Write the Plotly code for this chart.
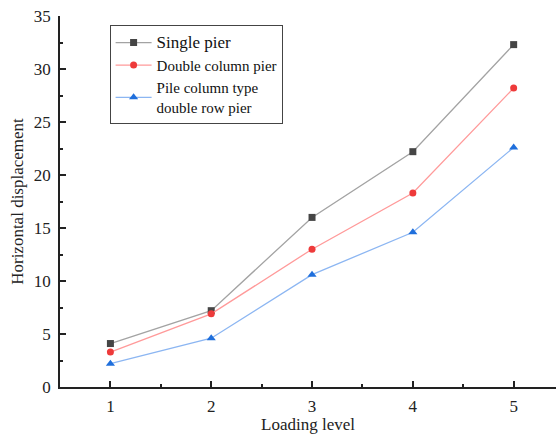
import plotly.graph_objects as go

loading_level = [1, 2, 3, 4, 5]
single_pier = [4.1, 7.2, 16.0, 22.2, 32.3]
double_column_pier = [3.3, 6.9, 13.0, 18.3, 28.2]
pile_column_double_row = [2.2, 4.6, 10.6, 14.6, 22.6]

series = [
    ("<span style='font-size:17px'>Single pier</span>", single_pier, "#a3a3a3", "#454545", "square", 7),
    ("Double column pier", double_column_pier, "#ff9a9a", "#ee3a3a", "circle", 7),
    ("Pile column type<br>double row pier", pile_column_double_row, "#8cb6f2", "#1f6fdc", "triangle-up", 8),
]

fig = go.Figure()
for name, vals, lc, mc, sym, ms in series:
    fig.add_trace(go.Scatter(
        x=loading_level, y=vals, name=name, mode="lines+markers",
        line=dict(color=lc, width=1.3),
        marker=dict(color=mc, symbol=sym, size=ms),
    ))

font = "Liberation Serif, Times New Roman, serif"
fig.update_layout(
    width=556, height=434,
    margin=dict(l=60, r=0, t=16, b=47),
    paper_bgcolor="white", plot_bgcolor="white",
    font=dict(family=font, size=16, color="#222"),
    showlegend=True,
    legend=dict(
        x=0.1, y=0.975, xanchor="left", yanchor="top",
        bordercolor="#444", borderwidth=1, bgcolor="white",
        font=dict(family=font, size=15, color="#111"),
        tracegroupgap=0, itemwidth=36,
    ),
    xaxis=dict(
        range=[0.5, 5.42], tickvals=loading_level, ticks="inside", ticklen=6,
        tickwidth=1.5, tickcolor="#222", showline=True, linecolor="#222", linewidth=1.5,
        showgrid=False, zeroline=False, tickfont=dict(size=17), ticklabelstandoff=3,
        minor=dict(ticks="inside", ticklen=3, tickcolor="#222", dtick=0.5, tick0=0.5),
        title=dict(text="Loading level", font=dict(size=17), standoff=2),
    ),
    yaxis=dict(
        range=[0, 35], dtick=5, ticks="inside", ticklen=6, tickwidth=1.5,
        tickcolor="#222", showline=True, linecolor="#222", linewidth=1.5,
        showgrid=False, zeroline=False, tickfont=dict(size=17), ticklabelstandoff=4,
        minor=dict(ticks="inside", ticklen=3, tickcolor="#222", dtick=2.5),
        title=dict(text="Horizontal displacement", font=dict(size=17), standoff=6),
    ),
)

fig.write_html("out.html")
